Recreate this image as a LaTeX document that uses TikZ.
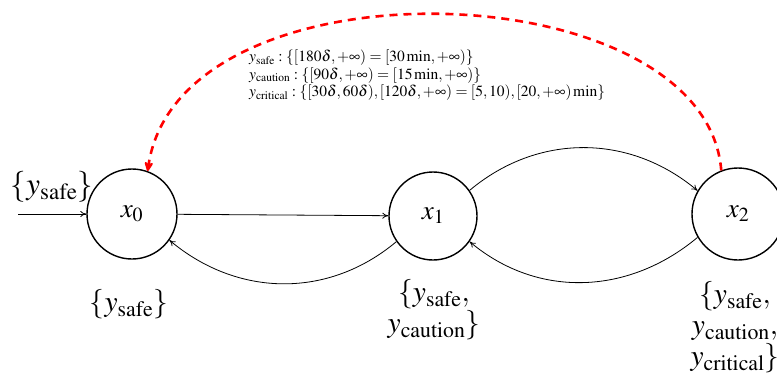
\documentclass[tikz,border=0pt]{standalone}
\usepackage{mathptmx}
\usetikzlibrary{arrows.meta}
\begin{document}
\begin{tikzpicture}[x=1pt,y=-1pt,
  state/.style={circle,draw,line width=1.4pt,minimum size=90pt,inner sep=0pt,font=\fontsize{27}{30}\selectfont},
  biglab/.style={font=\fontsize{29.5}{31}\selectfont,align=center,inner sep=0pt},
  edge/.style={-{To[length=6pt,width=6pt]},line width=0.8pt},
  reddash/.style={red,line width=2.6pt,dash pattern=on 8pt off 6pt,-{Stealth[length=12pt,width=11pt,round]}}]
\useasboundingbox (0,0) rectangle (777,381);
\node[state] (x0) at (132,214) {$x_0$};
\node[state,minimum size=88pt] (x1) at (433,216) {$x_1$};
\node[state,minimum size=92pt] (x2) at (738,214) {$x_2$};
\coordinate (start) at (18,214);
\draw[edge] (start) -- (x0);
\node[biglab,font=\fontsize{31}{31}\selectfont] (l0a) at (52,187) {$\{y_{\mathrm{safe}}\}$};
\node[biglab] (l0b) at (129,304) {$\{y_{\mathrm{safe}}\}$};
\node[biglab] (l1) at (434,310) {$\{y_{\mathrm{safe}},$\\$y_{\mathrm{caution}}\}$};
\node[biglab] (l2) at (735,327) {$\{y_{\mathrm{safe}},$\\$y_{\mathrm{caution}},$\\$y_{\mathrm{critical}}\}$};
\draw[edge] (x0) -- (x1);
\draw[edge] (x1.35) to[out=40,in=140] (x2.150);
\draw[edge] (x1.215) to[out=220,in=-40] (x0.-35);
\draw[edge] (x2.210) to[out=220,in=-40] (x1.-35);
\draw[reddash] (x2.111) .. controls (705,-30) and (180,-45) .. (x0.70);
\node[font=\fontsize{15.5}{17.5}\selectfont,align=left,anchor=north west,inner sep=0pt] (ann) at (249,50)
 {$y_{\mathrm{safe}}:\{[180\delta,+\infty)=[30\,\mathrm{min},+\infty)\}$\\
  $y_{\mathrm{caution}}:\{[90\delta,+\infty)=[15\,\mathrm{min},+\infty)\}$\\
  $y_{\mathrm{critical}}:\{[30\delta,60\delta),[120\delta,+\infty)=[5,10),[20,+\infty)\,\mathrm{min}\}$};
\end{tikzpicture}
\end{document}
